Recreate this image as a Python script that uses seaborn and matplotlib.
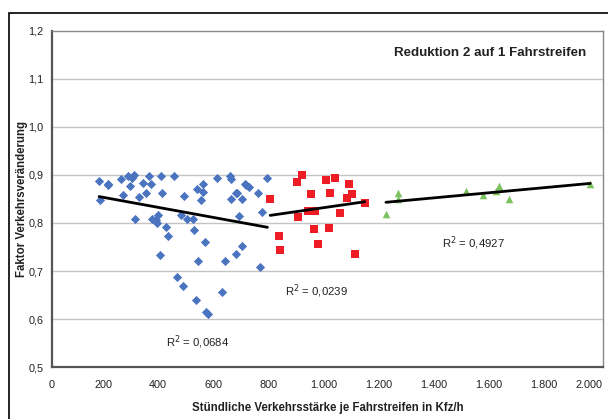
"""
Reduktion 2 auf 1 Fahrstreifen: Faktor Verkehrsveränderung über der
stündlichen Verkehrsstärke je Fahrstreifen, drei Belastungsbereiche
mit jeweils linearem Trend.
"""

import matplotlib

matplotlib.use("Agg")

import matplotlib.pyplot as plt
import matplotlib.transforms as mtransforms
import pandas as pd
import seaborn as sns
from matplotlib.patches import Rectangle

# Blue group (niedrige Belastung)
BLUE_X = [171, 174, 202, 204, 252, 257, 276, 292, 298, 284, 302, 315, 332, 340,
          352, 358, 362, 377, 381, 385, 394, 400, 413, 420, 391, 442, 455, 467,
          479, 476, 489, 511, 514, 524, 526, 531, 540, 547, 547, 555, 560, 565,
          599, 627, 618, 645, 650, 649, 669, 673, 678, 669, 691, 690, 701, 703,
          715, 749, 754, 763, 782]
BLUE_Y = [0.888, 0.847, 0.882, 0.879, 0.892, 0.858, 0.897, 0.894, 0.899, 0.878,
          0.808, 0.855, 0.884, 0.863, 0.897, 0.881, 0.808, 0.806, 0.799, 0.816,
          0.897, 0.862, 0.791, 0.772, 0.734, 0.898, 0.687, 0.816, 0.856, 0.669,
          0.808, 0.808, 0.785, 0.640, 0.870, 0.721, 0.848, 0.881, 0.865, 0.761,
          0.615, 0.611, 0.894, 0.721, 0.657, 0.898, 0.892, 0.851, 0.863, 0.863,
          0.815, 0.735, 0.849, 0.753, 0.882, 0.880, 0.876, 0.862, 0.708, 0.822,
          0.893]

# Red group (mittlere Belastung)
RED_X = [792, 825, 828, 889, 907, 894, 941, 928, 953, 951, 967, 995, 1010,
         1004, 1028, 1044, 1078, 1090, 1072, 1101, 1135]
RED_Y = [0.851, 0.773, 0.743, 0.886, 0.900, 0.813, 0.860, 0.824, 0.824, 0.788,
         0.756, 0.890, 0.863, 0.790, 0.893, 0.821, 0.882, 0.861, 0.853, 0.735,
         0.842]

# Green group (hohe Belastung)
GREEN_X = [1212, 1256, 1257, 1503, 1564, 1610, 1624, 1658, 1954]
GREEN_Y = [0.818, 0.863, 0.851, 0.867, 0.858, 0.867, 0.877, 0.851, 0.881]

R2_TEXTS = ["R$^2$ = 0,0684", "R$^2$ = 0,0239", "R$^2$ = 0,4927"]
R2_POS = [(530, 0.551), (960, 0.658), (1528, 0.757)]

X_TICKS = [0, 200, 400, 600, 800, 1000, 1200, 1400, 1600, 1800, 2000]
X_TICK_LABELS = ["0", "200", "400", "600", "800", "1.000", "1.200", "1.400",
                 "1.600", "1.800", "2.000"]
Y_TICKS = [0.5, 0.6, 0.7, 0.8, 0.9, 1.0, 1.1, 1.2]
Y_TICK_LABELS = ["0,5", "0,6", "0,7", "0,8", "0,9", "1,0", "1,1", "1,2"]

TITLE = "Reduktion 2 auf 1 Fahrstreifen"
X_LABEL = "Stündliche Verkehrsstärke je Fahrstreifen in Kfz/h"
Y_LABEL = "Faktor Verkehrsveränderung"

COLORS = {"blue": "#4a74c0", "red": "#ee1c24", "green": "#7cc35f"}
MARKERS = {"blue": "D", "red": "s", "green": "^"}

sns.set_theme(style="white")
plt.rcParams["font.family"] = ["Liberation Sans", "DejaVu Sans"]


def build_frame():
    """Long-form table of all three groups."""
    parts = []
    for name, xs, ys in [("blue", BLUE_X, BLUE_Y), ("red", RED_X, RED_Y),
                         ("green", GREEN_X, GREEN_Y)]:
        parts.append(pd.DataFrame({"x": xs, "y": ys, "group": name}))
    return pd.concat(parts, ignore_index=True)


def main():
    df = build_frame()

    fig = plt.figure(figsize=(6.08, 4.19), dpi=100)
    ax = fig.add_axes([52 / 608, 52 / 419, 551 / 608, 336 / 419])

    # horizontal gridlines
    for yv in Y_TICKS[1:-1]:
        ax.axhline(yv, color="#c4c4c4", lw=1.0, zorder=0)

    sizes = {"blue": 22, "red": 26, "green": 30}
    for name in ["blue", "red", "green"]:
        sub = df[df["group"] == name]
        sns.scatterplot(data=sub, x="x", y="y", ax=ax, marker=MARKERS[name],
                        color=COLORS[name], s=sizes[name], linewidth=0,
                        legend=False, zorder=3)
        sns.regplot(data=sub, x="x", y="y", ax=ax, scatter=False, ci=None,
                    truncate=True, color="black",
                    line_kws={"lw": 2.0, "zorder": 4})

    for txt, (xv, yv) in zip(R2_TEXTS, R2_POS):
        ax.text(xv, yv, txt, ha="center", va="center", fontsize=8.2,
                color="#222222")

    ax.text(0.969, 0.935, TITLE, transform=ax.transAxes, ha="right",
            va="center", fontsize=9.6, fontweight="bold", color="#222222")

    ax.set_xlim(0, 2000)
    ax.set_ylim(0.5, 1.2)
    ax.set_xticks(X_TICKS)
    ax.set_xticklabels(X_TICK_LABELS)
    ax.set_yticks(Y_TICKS)
    ax.set_yticklabels(Y_TICK_LABELS)
    ax.tick_params(axis="both", direction="out", length=4, width=1,
                   color="#555555", labelsize=7.8, labelcolor="#222222")
    ax.tick_params(axis="x", pad=5)
    ax.tick_params(axis="y", pad=2)

    # labels sit a little left of their ticks, last one stays inside
    shift = mtransforms.ScaledTranslation(-4 / 100, 0, fig.dpi_scale_trans)
    xlabels = ax.get_xticklabels()
    for lab in xlabels[1:-1]:
        lab.set_transform(lab.get_transform() + shift)
    xlabels[-1].set_horizontalalignment("right")

    ax.set_xlabel(X_LABEL, fontsize=8.3, fontweight="bold", color="#222222")
    ax.set_ylabel(Y_LABEL, fontsize=8.3, fontweight="bold", color="#222222")
    ax.xaxis.set_label_coords(0.5, -0.105)
    ax.yaxis.set_label_coords(-0.043, 0.5)

    for side in ["left", "bottom"]:
        ax.spines[side].set_color("#555555")
        ax.spines[side].set_linewidth(1.6)
    for side in ["top", "right"]:
        ax.spines[side].set_color("#888888")
        ax.spines[side].set_linewidth(1.0)

    # outer chart border
    fig.patches.append(Rectangle((9 / 608, -0.1), 1.2, 0.1 + (419 - 13) / 419,
                                 transform=fig.transFigure, fill=False,
                                 edgecolor="black", lw=1.2))

    fig.savefig("out.png", dpi=100)
    plt.close(fig)


if __name__ == "__main__":
    main()
